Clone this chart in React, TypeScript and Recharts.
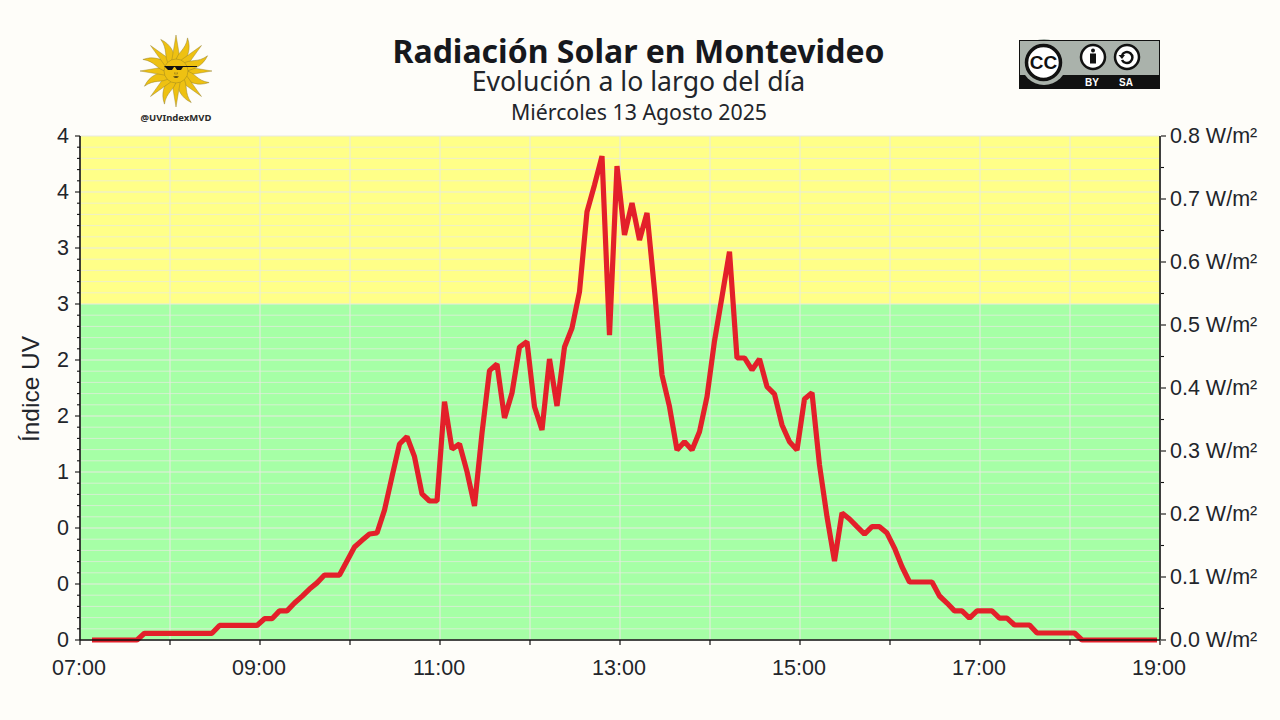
import { ComposedChart, Line, XAxis, YAxis, ReferenceArea, ReferenceLine } from 'recharts'

const sampleMinutes = [
  428, 433, 438, 443, 448, 453, 458, 463, 468, 473, 478, 483, 488, 493, 498, 503, 508, 513, 518, 523,
  528, 533, 538, 543, 548, 553, 558, 563, 568, 573, 578, 583, 588, 593, 598, 603, 608, 613, 618, 623,
  628, 633, 638, 643, 648, 653, 658, 663, 668, 673, 678, 683, 688, 693, 698, 703, 708, 713, 718, 723,
  728, 733, 738, 743, 748, 753, 758, 763, 768, 773, 778, 783, 788, 793, 798, 803, 808, 813, 818, 823,
  828, 833, 838, 843, 848, 853, 858, 863, 868, 873, 878, 883, 888, 893, 898, 903, 908, 913, 918, 923,
  928, 933, 938, 943, 948, 953, 958, 963, 968, 973, 978, 983, 988, 993, 998, 1003, 1008, 1013, 1018, 1023,
  1028, 1033, 1038, 1043, 1048, 1053, 1058, 1063, 1068, 1073, 1078, 1083, 1088, 1093, 1098, 1103, 1108, 1113, 1118, 1123,
  1128, 1133, 1138,
]

const uvValues = [
  0, 0, 0, 0, 0, 0, 0, 0.06, 0.06, 0.06, 0.06, 0.06, 0.06, 0.06, 0.06, 0.06, 0.06, 0.13, 0.13, 0.13,
  0.13, 0.13, 0.13, 0.19, 0.19, 0.26, 0.26, 0.33, 0.39, 0.455, 0.51, 0.58, 0.58, 0.58, 0.705, 0.83, 0.89, 0.946, 0.955, 1.16,
  1.458, 1.75, 1.815, 1.637, 1.304, 1.241, 1.241, 2.128, 1.705, 1.75, 1.503, 1.196, 1.848, 2.405, 2.464, 1.982, 2.205, 2.616, 2.663, 2.083,
  1.875, 2.509, 2.089, 2.616, 2.786, 3.11, 3.824, 4.063, 4.321, 2.723, 4.232, 3.616, 3.902, 3.571, 3.813, 3.125, 2.366, 2.083, 1.696, 1.77,
  1.696, 1.86, 2.172, 2.67, 3.065, 3.467, 2.518, 2.518, 2.411, 2.509, 2.262, 2.196, 1.92, 1.77, 1.696, 2.152, 2.208, 1.5625, 1.1, 0.705,
  1.134, 1.08, 1.012, 0.946, 1.012, 1.012, 0.955, 0.821, 0.654, 0.518, 0.518, 0.518, 0.518, 0.393, 0.33, 0.26, 0.26, 0.196, 0.26, 0.26,
  0.26, 0.196, 0.196, 0.134, 0.134, 0.134, 0.0625, 0.0625, 0.0625, 0.0625, 0.0625, 0.0625, 0, 0, 0, 0, 0, 0, 0, 0,
  0, 0, 0,
]

const hourTicks = [420, 480, 540, 600, 660, 720, 780, 840, 900, 960, 1020, 1080, 1140]
const hourLabels = ['07:00', '', '09:00', '', '11:00', '', '13:00', '', '15:00', '', '17:00', '', '19:00']

const uvMajorTicks = [0, 0.5, 1, 1.5, 2, 2.5, 3, 3.5, 4, 4.5]
const uvMajorLabels = ['0', '0', '0', '1', '2', '2', '3', '3', '4', '4']
const uvAllTicks = [
  0, 0.1, 0.2, 0.3, 0.4, 0.5, 0.6, 0.7, 0.8, 0.9, 1, 1.1, 1.2, 1.3, 1.4, 1.5, 1.6, 1.7, 1.8, 1.9, 2, 2.1, 2.2, 2.3,
  2.4, 2.5, 2.6, 2.7, 2.8, 2.9, 3, 3.1, 3.2, 3.3, 3.4, 3.5, 3.6, 3.7, 3.8, 3.9, 4, 4.1, 4.2, 4.3, 4.4, 4.5,
]

const wattTicks = [0, 0.05, 0.1, 0.15, 0.2, 0.25, 0.3, 0.35, 0.4, 0.45, 0.5, 0.55, 0.6, 0.65, 0.7, 0.75, 0.8]
const wattLabels: Record<string, string> = {
  '0': '0.0 W/m²',
  '0.1': '0.1 W/m²',
  '0.2': '0.2 W/m²',
  '0.3': '0.3 W/m²',
  '0.4': '0.4 W/m²',
  '0.5': '0.5 W/m²',
  '0.6': '0.6 W/m²',
  '0.7': '0.7 W/m²',
  '0.8': '0.8 W/m²',
}

const data = sampleMinutes.map((minute, i) => ({ minute, uv: uvValues[i] }))

const INK = '#22252b'
const AXIS_FONT = '"Liberation Sans", Arial, sans-serif'
const TITLE_FONT = '"Noto Sans", sans-serif'
const GRID = '#E8EAE2'

function HourTick({ x, y, payload }: any) {
  const label = hourLabels[hourTicks.indexOf(payload.value)]
  return (
    <g>
      <line x1={x} x2={x} y1={y} y2={y + 5} stroke="#111" strokeWidth={1.2} />
      <text x={x - 1} y={y + 35} textAnchor="middle" fontSize={21.5} fontFamily={AXIS_FONT} fill={INK}>
        {label}
      </text>
    </g>
  )
}

function UvTick({ x, y, payload }: any) {
  const idx = uvMajorTicks.indexOf(payload.value)
  const major = idx >= 0
  return (
    <g>
      <line x1={x - (major ? 5 : 3)} x2={x} y1={y} y2={y} stroke="#111" strokeWidth={1.1} />
      {major && (
        <text x={x - 11} y={y + 6.5} textAnchor="end" fontSize={21.5} fontFamily={AXIS_FONT} fill={INK}>
          {uvMajorLabels[idx]}
        </text>
      )}
    </g>
  )
}

function WattTick({ x, y, payload }: any) {
  const label = wattLabels[String(payload.value)]
  return (
    <g>
      <line x1={x + 1} x2={x + (label ? 6 : 4)} y1={y} y2={y} stroke="#111" strokeWidth={1.1} />
      {label && (
        <text x={x + 10} y={y + 6.5} textAnchor="start" fontSize={21.5} fontFamily={AXIS_FONT} fill={INK}>
          {label}
        </text>
      )}
    </g>
  )
}

const rayAngles = [0, 22.5, 45, 67.5, 90, 112.5, 135, 157.5, 180, 202.5, 225, 247.5, 270, 292.5, 315, 337.5]

function SunLogo() {
  return (
    <g transform="translate(176 71)">
      {rayAngles.map((a, i) =>
        i % 2 === 0 ? (
          <path key={a} transform={`rotate(${a})`} d="M9,-4.5 L36,0 L9,4.5 Z" fill="#EEC112" stroke="#8d7a2a" strokeWidth={0.4} />
        ) : (
          <path
            key={a}
            transform={`rotate(${a})`}
            d="M9,-4 C18,-6 23,1 35,-2 C26,6 18,5 9,4 Z"
            fill="#EEC112"
            stroke="#8d7a2a"
            strokeWidth={0.4}
          />
        ),
      )}
      <circle r={12} fill="#EEC112" stroke="#9a8420" strokeWidth={0.5} />
      <path d="M-12,-5 L21,-5 L21,-4 L7,-4 L5,-1 L1,-1 L-1,-4 L-2,-4 L-4,-1 L-8,-1 Z" fill="#111" />
      <path d="M-3,5.5 Q0,4.5 3,5.5 Q0,8.5 -3,5.5 Z" fill="#5a4a12" />
      <path d="M-1,1 L-1.5,3 L1.5,3 L1,1" fill="none" stroke="#7a6518" strokeWidth={0.5} />
      <text x={0} y={50} textAnchor="middle" fontSize={9.5} fontWeight={700} fontFamily={TITLE_FONT} fill="#2a2a2a">
        @UVIndexMVD
      </text>
    </g>
  )
}

function CcBadge() {
  return (
    <g>
      <rect x={1019.5} y={40.5} width={140} height={48} fill="#AAB2AB" stroke="#111" strokeWidth={1} />
      <rect x={1019} y={75} width={141} height={14} fill="#111" />
      <circle cx={1044} cy={62} r={23} fill="#AAB2AB" />
      <rect x={1019.5} y={40.5} width={140} height={48} fill="none" stroke="#111" strokeWidth={1} />
      <circle cx={1043.5} cy={62.5} r={17} fill="#fff" stroke="#111" strokeWidth={3.5} />
      <text x={1043.5} y={69} textAnchor="middle" fontSize={19} fontWeight={700} fontFamily={AXIS_FONT} fill="#111">
        CC
      </text>
      <circle cx={1093} cy={57} r={12} fill="#fff" stroke="#111" strokeWidth={2.5} />
      <circle cx={1093} cy={50.5} r={2} fill="#111" />
      <rect x={1090} y={53.5} width={6} height={10} fill="#111" />
      <circle cx={1127} cy={57} r={12} fill="#fff" stroke="#111" strokeWidth={2.5} />
      <path d="M1122,55 A5.5,5.5 0 1 1 1122,60" fill="none" stroke="#111" strokeWidth={2.5} />
      <path d="M1118.5,55 L1125,55 L1122,59 Z" fill="#111" />
      <text x={1092} y={86} textAnchor="middle" fontSize={10} fontWeight={700} fontFamily={AXIS_FONT} fill="#fff">
        BY
      </text>
      <text x={1126} y={86} textAnchor="middle" fontSize={10} fontWeight={700} fontFamily={AXIS_FONT} fill="#fff">
        SA
      </text>
    </g>
  )
}

export default function App() {
  return (
    <div style={{ position: 'fixed', left: 0, top: 0, width: 1280, height: 720, background: '#FEFDF9' }}>
      <ComposedChart
        width={1280}
        height={720}
        data={data}
        margin={{ top: 136, right: 0, bottom: 0, left: 0 }}
      >
        <XAxis
          dataKey="minute"
          type="number"
          domain={[420, 1140]}
          ticks={hourTicks}
          interval={0}
          height={80}
          tickSize={0}
          tickMargin={0}
          tick={<HourTick />}
          tickLine={false}
          axisLine={{ stroke: '#111', strokeWidth: 1.6 }}
        />
        <YAxis
          yAxisId="uv"
          type="number"
          domain={[0, 4.5]}
          ticks={uvAllTicks}
          interval={0}
          width={80}
          tickSize={0}
          tickMargin={0}
          tick={<UvTick />}
          tickLine={false}
          axisLine={{ stroke: '#111', strokeWidth: 1.6 }}
        />
        <YAxis
          yAxisId="watt"
          orientation="right"
          type="number"
          domain={[0, 0.8]}
          allowDataOverflow
          ticks={wattTicks}
          interval={0}
          width={120}
          tickSize={0}
          tickMargin={0}
          tick={<WattTick />}
          tickLine={false}
          axisLine={{ stroke: '#111', strokeWidth: 1.6 }}
        />
        <ReferenceArea yAxisId="uv" y1={0} y2={3} fill="#A6FFA6" fillOpacity={1} stroke="none" />
        <ReferenceArea yAxisId="uv" y1={3} y2={4.5} fill="#FFFF88" fillOpacity={1} stroke="none" />
        {uvAllTicks.map((v) => (
          <ReferenceLine
            key={v}
            yAxisId="uv"
            y={v}
            stroke={GRID}
            strokeOpacity={uvMajorTicks.includes(v) ? 1 : 0.7}
            strokeWidth={uvMajorTicks.includes(v) ? 1.2 : 1}
          />
        ))}
        {hourTicks.map((m) => (
          <ReferenceLine key={m} yAxisId="uv" x={m} stroke={GRID} strokeOpacity={0.95} strokeWidth={1.1} />
        ))}
        <Line
          yAxisId="watt"
          dataKey="uv"
          stroke="none"
          legendType="none"
          dot={false}
          activeDot={false}
          isAnimationActive={false}
        />
        <Line
          yAxisId="uv"
          dataKey="uv"
          type="linear"
          stroke="#E3202A"
          strokeWidth={5.2}
          strokeLinejoin="bevel"
          dot={false}
          activeDot={false}
          isAnimationActive={false}
        />
        <SunLogo />
        <CcBadge />
        <text x={638.5} y={63} textAnchor="middle" fontSize={32} fontWeight={700} fontFamily={TITLE_FONT} fill="#16181d">
          Radiación Solar en Montevideo
        </text>
        <text x={638.5} y={91} textAnchor="middle" fontSize={26.6} fontFamily={TITLE_FONT} fill="#22252b">
          Evolución a lo largo del día
        </text>
        <text x={639} y={120} textAnchor="middle" fontSize={21.3} fontFamily={TITLE_FONT} fill="#22252b">
          Miércoles 13 Agosto 2025
        </text>
        <text
          x={39}
          y={389}
          textAnchor="middle"
          transform="rotate(-90 39 389)"
          fontSize={24.5}
          fontFamily={AXIS_FONT}
          fill={INK}
        >
          Índice UV
        </text>
      </ComposedChart>
    </div>
  )
}
